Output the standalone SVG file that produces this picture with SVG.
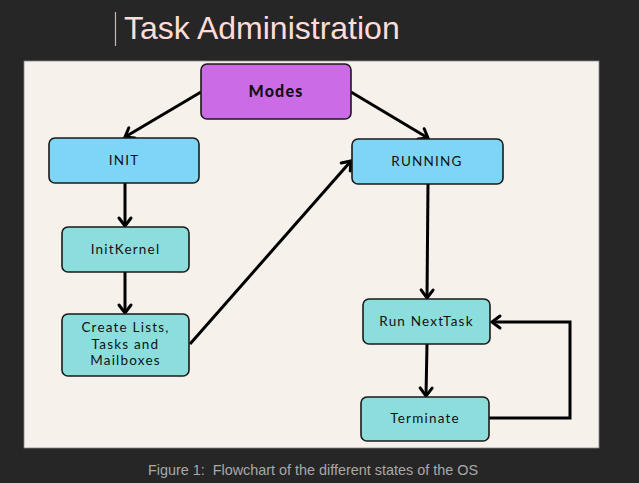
<svg xmlns="http://www.w3.org/2000/svg" width="639" height="483" viewBox="0 0 639 483">
<defs>
<marker id="arr" markerUnits="userSpaceOnUse" markerWidth="20" markerHeight="20" viewBox="-12 -10 16 20" refX="0" refY="0" orient="auto">
<path d="M-8,-6 L0,0 L-8,6" fill="none" stroke="#000" stroke-width="3" stroke-linecap="round" stroke-linejoin="miter"/>
</marker>
</defs>
<style>
.box{stroke:#1a1a1a;stroke-width:1.6}
.mode{fill:#CB6CE6}
.blue{fill:#7ED5F5}
.teal{fill:#8BDEDC}
.lbl{font-family:"Lato","Noto Sans",sans-serif;font-size:13.5px;fill:#111;text-anchor:middle;letter-spacing:1.2px}
.conn{fill:none;stroke:#000;stroke-width:3;marker-end:url(#arr)}
</style>
<rect x="0" y="0" width="639" height="483" fill="#262626"/>
<line x1="115.5" y1="12" x2="115.5" y2="46" stroke="#C9B6B2" stroke-width="1.2"/>
<text x="124" y="39" font-family="Liberation Sans, Arial, sans-serif" font-size="32" fill="#FFDCDA">Task Administration</text>
<rect x="24" y="61" width="575" height="387" fill="#F6F2EB" stroke="#8a8884" stroke-width="0.8"/>
<g id="connectors">
<path class="conn" d="M201,92 L125,137"/>
<path class="conn" d="M351,92 L428,138"/>
<path class="conn" d="M125,183 L125,226"/>
<path class="conn" d="M125,272 L125,313"/>
<path class="conn" d="M190,344 L351,161"/>
<path class="conn" d="M428,184 L427,298"/>
<path class="conn" d="M427,344 L426,396"/>
<path class="conn" d="M489,418 L570,418 L570,322 L492,322"/>
</g>
<g id="modes">
<rect class="box mode" x="201" y="64" width="150" height="55" rx="6"/>
<text class="lbl" x="276" y="97" style="font-size:16px;font-weight:900;letter-spacing:1.2px">Modes</text>
</g>
<g id="init">
<rect class="box blue" x="49" y="138" width="150" height="45" rx="6"/>
<text class="lbl" x="124" y="165">INIT</text>
</g>
<g id="running">
<rect class="box blue" x="352" y="139" width="151" height="45" rx="6"/>
<text class="lbl" x="427" y="166">RUNNING</text>
</g>
<g id="initkernel">
<rect class="box teal" x="62" y="227" width="127" height="45" rx="6"/>
<text class="lbl" x="125.5" y="254">InitKernel</text>
</g>
<g id="create">
<rect class="box teal" x="62" y="314" width="127" height="62" rx="6"/>
<text class="lbl" x="125.5" y="332">Create Lists,</text>
<text class="lbl" x="125.5" y="348.5">Tasks and</text>
<text class="lbl" x="125.5" y="365">Mailboxes</text>
</g>
<g id="runnext">
<rect class="box teal" x="363" y="299" width="127" height="45" rx="6"/>
<text class="lbl" x="426.5" y="326">Run NextTask</text>
</g>
<g id="terminate">
<rect class="box teal" x="361" y="397" width="128" height="44" rx="6"/>
<text class="lbl" x="425" y="423">Terminate</text>
</g>
<text x="313" y="475" font-family="Liberation Sans, Arial, sans-serif" font-size="14.4" fill="#A9A9A9" text-anchor="middle" xml:space="preserve">Figure 1:  Flowchart of the different states of the OS</text>
</svg>
